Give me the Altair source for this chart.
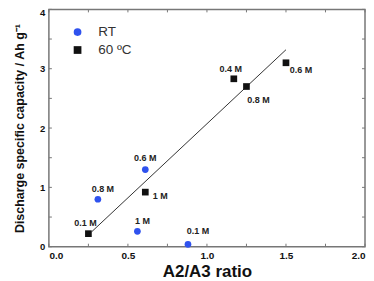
import altair as alt
import pandas as pd

# ---- data ----
rt_x = [0.31, 0.61, 0.56, 0.88]
rt_y = [0.80, 1.30, 0.26, 0.04]
rt_labels = ["0.8 M", "0.6 M", "1 M", "0.1 M"]

hot_x = [0.25, 0.61, 1.17, 1.25, 1.50]
hot_y = [0.22, 0.92, 2.83, 2.70, 3.10]
hot_labels = ["0.1 M", "1 M", "0.4 M", "0.8 M", "0.6 M"]

fit_x = [0.27, 1.50]
fit_y = [0.25, 3.32]

x_ticks = [0.0, 0.25, 0.5, 0.75, 1.0, 1.25, 1.5, 1.75, 2.0]
y_ticks = [0.0, 0.5, 1.0, 1.5, 2.0, 2.5, 3.0, 3.5, 4.0]

series_names = ["RT", "60 ºC"]

# label annotation offsets (px), styling only
rt_dx = [5, 0, 5, 10]
rt_dy = [-10, -12, -10, -13]
hot_dx = [-3, 15, -3, 12, 15]
hot_dy = [-11, 4, -10, 14, 7]

W, H = 317, 238
FONT = "Liberation Sans"

pts = pd.DataFrame({
    "x": rt_x + hot_x,
    "y": rt_y + hot_y,
    "series": [series_names[0]] * len(rt_x) + [series_names[1]] * len(hot_x),
    "label": rt_labels + hot_labels,
})
pts["i"] = range(len(pts))
all_dx = rt_dx + hot_dx
all_dy = rt_dy + hot_dy

fit = pd.DataFrame({"x": fit_x, "y": fit_y})
xt = pd.DataFrame({"t": x_ticks})
yt = pd.DataFrame({"t": y_ticks})

xs = alt.Scale(domain=[0, 2], nice=False, zero=False)
ys = alt.Scale(domain=[0, 4], nice=False, zero=False)

x_axis = alt.Axis(values=[0, 0.5, 1.0, 1.5, 2.0], format=".1f", title="A2/A3 ratio",
                  labelFontSize=10, labelFontWeight="bold", labelPadding=4,
                  titleFontSize=17, titleFontWeight="bold", titlePadding=3,
                  labelFont=FONT, titleFont=FONT, labelColor="#111", titleColor="#111")
y_axis = alt.Axis(values=[0, 1, 2, 3, 4], format="d", title="Discharge specific capacity / Ah g⁻¹",
                  labelFontSize=9.5, labelFontWeight="bold", labelPadding=4,
                  labelOffset={"expr": "datum.value == 4 ? 3 : 0"},
                  titleFontSize=12.5, titleFontWeight="bold", titlePadding=13,
                  labelFont=FONT, titleFont=FONT, labelColor="#111", titleColor="#111")

line = alt.Chart(fit).mark_line(color="#333", strokeWidth=1).encode(
    x=alt.X("x:Q", scale=xs, axis=x_axis),
    y=alt.Y("y:Q", scale=ys, axis=y_axis),
)

points = alt.Chart(pts).mark_point(filled=True, opacity=1).encode(
    x=alt.X("x:Q", scale=xs),
    y=alt.Y("y:Q", scale=ys),
    color=alt.Color("series:N",
                    scale=alt.Scale(domain=series_names, range=["#2f52ee", "#111111"]),
                    legend=alt.Legend(title=None, orient="none", legendX=22, legendY=16,
                                      labelFontSize=13.5, labelFont=FONT, labelColor="#333",
                                      symbolSize=60, labelOffset=14, rowPadding=3,
                                      symbolStrokeWidth=0)),
    shape=alt.Shape("series:N", scale=alt.Scale(domain=series_names, range=["circle", "square"]),
                    legend=None),
    size=alt.value(45),
)

text_layers = []
for i in range(len(pts)):
    text_layers.append(
        alt.Chart(pts).transform_filter(alt.datum.i == i)
        .mark_text(fontSize=9, fontWeight="bold", font=FONT, color="#222",
                   dx=all_dx[i], dy=all_dy[i])
        .encode(x=alt.X("x:Q", scale=xs), y=alt.Y("y:Q", scale=ys), text="label:N")
    )

tick_style = dict(color="#777", strokeWidth=1)
bt = alt.Chart(xt).mark_rule(**tick_style).encode(x=alt.X("t:Q", scale=xs), y=alt.value(H), y2=alt.value(H - 3))
tt = alt.Chart(xt).mark_rule(**tick_style).encode(x=alt.X("t:Q", scale=xs), y=alt.value(0), y2=alt.value(3))
lt = alt.Chart(yt).mark_rule(**tick_style).encode(y=alt.Y("t:Q", scale=ys), x=alt.value(0), x2=alt.value(3))
rt = alt.Chart(yt).mark_rule(**tick_style).encode(y=alt.Y("t:Q", scale=ys), x=alt.value(W), x2=alt.value(W - 3))

chart = alt.layer(line, bt, tt, lt, rt, points, *text_layers).properties(
    width=W, height=H,
    autosize=alt.AutoSizeParams(type="none"),
    padding={"left": 41, "top": 1, "right": 1, "bottom": 35},
).configure_axis(
    grid=False, ticks=False, domain=False,
).configure_view(
    stroke="#777", strokeWidth=1.5,
)

chart.save("out.html", embed_options={"renderer": "svg", "actions": False})
